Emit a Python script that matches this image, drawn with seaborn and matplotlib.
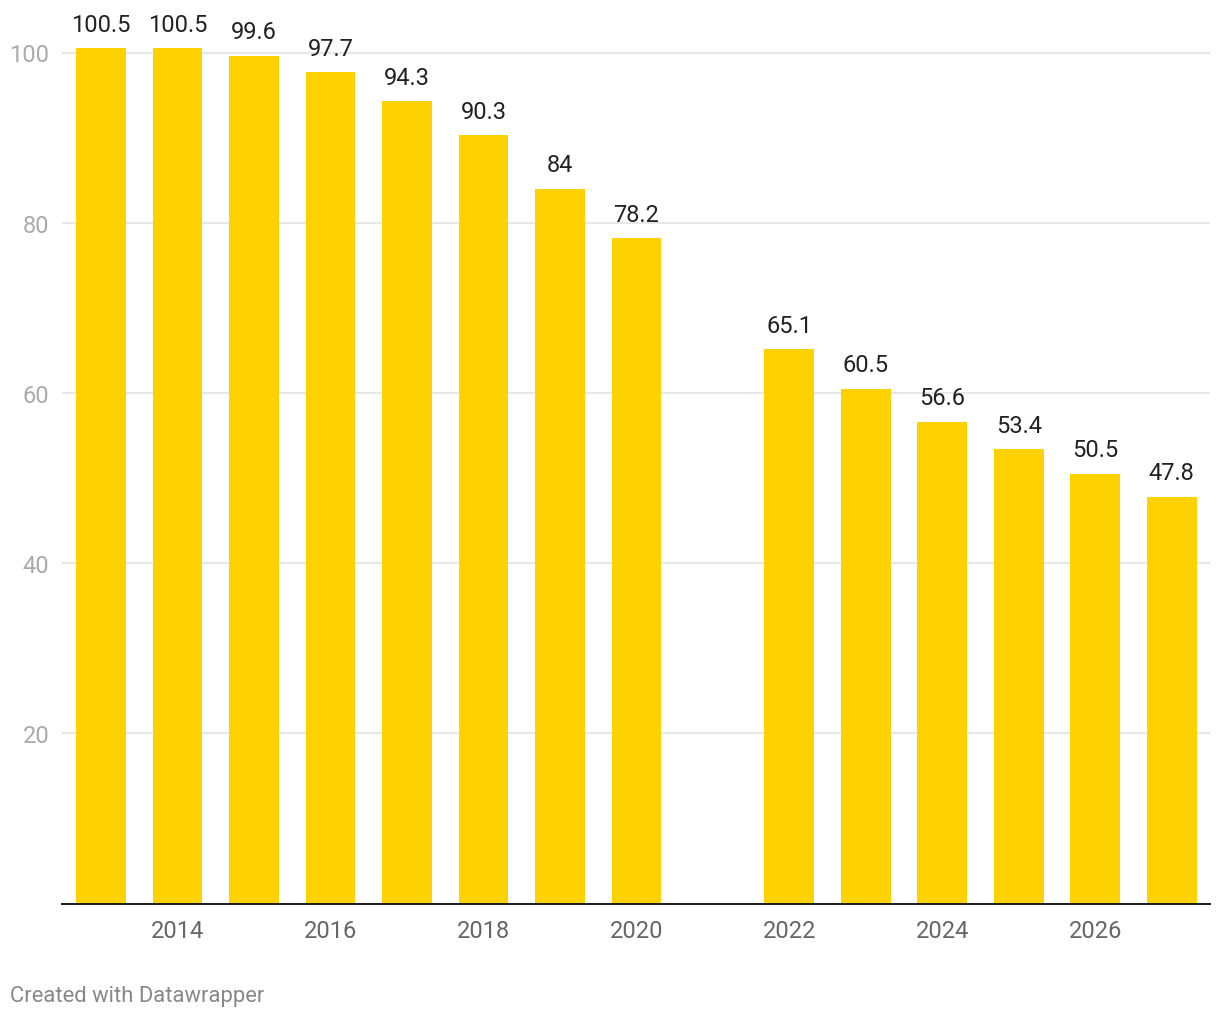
import numpy as np
import pandas as pd
import matplotlib
matplotlib.use("Agg")
import matplotlib.pyplot as plt
import seaborn as sns

years = [2013, 2014, 2015, 2016, 2017, 2018, 2019, 2020, 2022, 2023, 2024, 2025, 2026, 2027]
values = [100.5, 100.5, 99.6, 97.7, 94.3, 90.3, 84.0, 78.2, 65.1, 60.5, 56.6, 53.4, 50.5, 47.8]
y_ticks = [20, 40, 60, 80, 100]
x_ticks = [2014, 2016, 2018, 2020, 2022, 2024, 2026]
footer = "Created with Datawrapper"

sns.set_theme(style="white")
plt.rcParams['font.family'] = ['Roboto', 'DejaVu Sans']

df = pd.DataFrame({"year": years, "value": values})

fig = plt.figure(figsize=(12.2, 10.2), dpi=100)
W, H = 1220, 1020
left, right, bottom_px = 62, 1210, 904.5
top_px = bottom_px - 105 * 8.51
ax = fig.add_axes([left / W, (H - bottom_px) / H, (right - left) / W, (bottom_px - top_px) / H])

sns.barplot(data=df, x="year", y="value", native_scale=True, width=0.65,
            color="#fdd200", saturation=1, ax=ax, errorbar=None, linewidth=0)

for c in ax.containers:
    ax.bar_label(c, fmt="{:g}", padding=9, fontsize=17, color="#222222")

ax.set_xlim(2012.49, 2027.5)
ax.set_ylim(0, 105)
ax.set_yticks(y_ticks)
ax.set_xticks(x_ticks)
ax.set_xticklabels([str(t) for t in x_ticks])
ax.grid(axis="y", color="#e3e3e3", linewidth=1.2)
ax.set_axisbelow(True)
for s in ["top", "right", "left"]:
    ax.spines[s].set_visible(False)
ax.spines["bottom"].set_color("#1a1a1a")
ax.spines["bottom"].set_linewidth(1.4)
ax.tick_params(axis="y", length=0, pad=9, labelsize=17, labelcolor="#aaaaaa")
ax.tick_params(axis="x", length=0, pad=11, labelsize=17, labelcolor="#666666")
ax.set_xlabel("")
ax.set_ylabel("")

fig.text(10 / W, 1 - 997 / H, footer, fontsize=15.8, color="#888888", va="center", ha="left")

fig.savefig("out.png", dpi=100)
